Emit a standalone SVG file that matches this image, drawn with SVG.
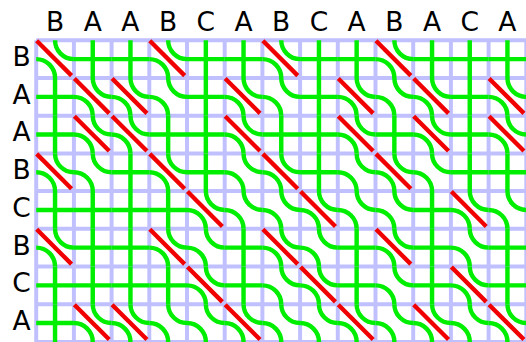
<svg xmlns="http://www.w3.org/2000/svg" xmlns:xlink="http://www.w3.org/1999/xlink" width="526" height="342" viewBox="0 0 526 342">
<style>
.lbl{font-family:"DejaVu Sans","Liberation Sans",sans-serif;font-size:26.5px;fill:#000;text-anchor:middle}
.grid{fill:none;stroke:#c0c0ff;stroke-width:4.2}
.sw{fill:none;stroke:#00ee00;stroke-width:4.7}
.mt{fill:none;stroke:#f00000;stroke-width:4.6}
</style>
<defs>
<path id="x" d="M0,20H40M20,0V40"/>
<path id="t" d="M20,0A20,20 0 0 0 40,20M0,20A20,20 0 0 1 20,40"/>
<path id="m" d="M0.5,0.5L37.5,37.5"/>
</defs>
<rect width="526" height="342" fill="#fff"/>
<g id="top-labels" class="lbl">
<text x="55" y="31">B</text><text x="92.7" y="31">A</text><text x="130.4" y="31">A</text><text x="168.1" y="31">B</text><text x="205.8" y="31">C</text><text x="243.5" y="31">A</text><text x="281.2" y="31">B</text><text x="318.9" y="31">C</text><text x="356.6" y="31">A</text><text x="394.3" y="31">B</text><text x="432" y="31">A</text><text x="469.7" y="31">C</text><text x="507.4" y="31">A</text>
</g>
<g id="left-labels" class="lbl">
<text x="21.5" y="66">B</text><text x="21.5" y="103.7">A</text><text x="21.5" y="141.4">A</text><text x="21.5" y="179.1">B</text><text x="21.5" y="216.8">C</text><text x="21.5" y="254.5">B</text><text x="21.5" y="292.2">C</text><text x="21.5" y="329.9">A</text>
</g>
<g transform="translate(36.2,40.3) scale(0.9425)">
<path id="grid" class="grid" d="M0,0V320M40,0V320M80,0V320M120,0V320M160,0V320M200,0V320M240,0V320M280,0V320M320,0V320M360,0V320M400,0V320M440,0V320M480,0V320M520,0V320M0,0H520M0,40H520M0,80H520M0,120H520M0,160H520M0,200H520M0,240H520M0,280H520M0,320H520"/>
<g id="seaweeds" class="sw">
<use href="#t" x="0" y="0"/><use href="#x" x="40" y="0"/><use href="#x" x="80" y="0"/><use href="#t" x="120" y="0"/><use href="#x" x="160" y="0"/><use href="#x" x="200" y="0"/><use href="#t" x="240" y="0"/><use href="#x" x="280" y="0"/><use href="#x" x="320" y="0"/><use href="#t" x="360" y="0"/><use href="#x" x="400" y="0"/><use href="#x" x="440" y="0"/><use href="#x" x="480" y="0"/>
<use href="#x" x="0" y="40"/><use href="#t" x="40" y="40"/><use href="#t" x="80" y="40"/><use href="#t" x="120" y="40"/><use href="#x" x="160" y="40"/><use href="#t" x="200" y="40"/><use href="#t" x="240" y="40"/><use href="#x" x="280" y="40"/><use href="#t" x="320" y="40"/><use href="#t" x="360" y="40"/><use href="#t" x="400" y="40"/><use href="#x" x="440" y="40"/><use href="#t" x="480" y="40"/>
<use href="#x" x="0" y="80"/><use href="#t" x="40" y="80"/><use href="#t" x="80" y="80"/><use href="#x" x="120" y="80"/><use href="#x" x="160" y="80"/><use href="#t" x="200" y="80"/><use href="#x" x="240" y="80"/><use href="#x" x="280" y="80"/><use href="#t" x="320" y="80"/><use href="#x" x="360" y="80"/><use href="#t" x="400" y="80"/><use href="#x" x="440" y="80"/><use href="#t" x="480" y="80"/>
<use href="#t" x="0" y="120"/><use href="#t" x="40" y="120"/><use href="#x" x="80" y="120"/><use href="#t" x="120" y="120"/><use href="#x" x="160" y="120"/><use href="#t" x="200" y="120"/><use href="#t" x="240" y="120"/><use href="#x" x="280" y="120"/><use href="#t" x="320" y="120"/><use href="#t" x="360" y="120"/><use href="#t" x="400" y="120"/><use href="#x" x="440" y="120"/><use href="#x" x="480" y="120"/>
<use href="#x" x="0" y="160"/><use href="#x" x="40" y="160"/><use href="#x" x="80" y="160"/><use href="#x" x="120" y="160"/><use href="#t" x="160" y="160"/><use href="#t" x="200" y="160"/><use href="#t" x="240" y="160"/><use href="#t" x="280" y="160"/><use href="#t" x="320" y="160"/><use href="#t" x="360" y="160"/><use href="#x" x="400" y="160"/><use href="#t" x="440" y="160"/><use href="#t" x="480" y="160"/>
<use href="#t" x="0" y="200"/><use href="#x" x="40" y="200"/><use href="#x" x="80" y="200"/><use href="#t" x="120" y="200"/><use href="#t" x="160" y="200"/><use href="#x" x="200" y="200"/><use href="#t" x="240" y="200"/><use href="#t" x="280" y="200"/><use href="#x" x="320" y="200"/><use href="#t" x="360" y="200"/><use href="#x" x="400" y="200"/><use href="#t" x="440" y="200"/><use href="#x" x="480" y="200"/>
<use href="#x" x="0" y="240"/><use href="#x" x="40" y="240"/><use href="#x" x="80" y="240"/><use href="#x" x="120" y="240"/><use href="#t" x="160" y="240"/><use href="#x" x="200" y="240"/><use href="#t" x="240" y="240"/><use href="#t" x="280" y="240"/><use href="#x" x="320" y="240"/><use href="#t" x="360" y="240"/><use href="#x" x="400" y="240"/><use href="#t" x="440" y="240"/><use href="#x" x="480" y="240"/>
<use href="#x" x="0" y="280"/><use href="#t" x="40" y="280"/><use href="#t" x="80" y="280"/><use href="#t" x="120" y="280"/><use href="#t" x="160" y="280"/><use href="#t" x="200" y="280"/><use href="#t" x="240" y="280"/><use href="#t" x="280" y="280"/><use href="#t" x="320" y="280"/><use href="#t" x="360" y="280"/><use href="#t" x="400" y="280"/><use href="#t" x="440" y="280"/><use href="#t" x="480" y="280"/>
</g>
<g id="matches" class="mt">
<use href="#m" x="0" y="0"/><use href="#m" x="120" y="0"/><use href="#m" x="240" y="0"/><use href="#m" x="360" y="0"/>
<use href="#m" x="40" y="40"/><use href="#m" x="80" y="40"/><use href="#m" x="200" y="40"/><use href="#m" x="320" y="40"/><use href="#m" x="400" y="40"/><use href="#m" x="480" y="40"/>
<use href="#m" x="40" y="80"/><use href="#m" x="80" y="80"/><use href="#m" x="200" y="80"/><use href="#m" x="320" y="80"/><use href="#m" x="400" y="80"/><use href="#m" x="480" y="80"/>
<use href="#m" x="0" y="120"/><use href="#m" x="120" y="120"/><use href="#m" x="240" y="120"/><use href="#m" x="360" y="120"/>
<use href="#m" x="160" y="160"/><use href="#m" x="280" y="160"/><use href="#m" x="440" y="160"/>
<use href="#m" x="0" y="200"/><use href="#m" x="120" y="200"/><use href="#m" x="240" y="200"/><use href="#m" x="360" y="200"/>
<use href="#m" x="160" y="240"/><use href="#m" x="280" y="240"/><use href="#m" x="440" y="240"/>
<use href="#m" x="40" y="280"/><use href="#m" x="80" y="280"/><use href="#m" x="200" y="280"/><use href="#m" x="320" y="280"/><use href="#m" x="400" y="280"/><use href="#m" x="480" y="280"/>
</g>
</g>
</svg>
